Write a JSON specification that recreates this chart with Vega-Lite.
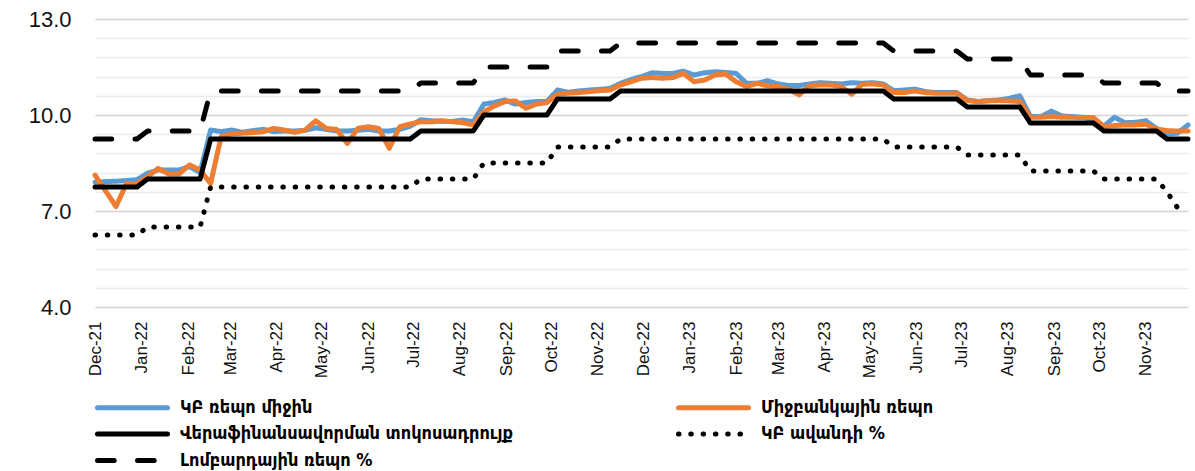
{
"$schema": "https://vega.github.io/schema/vega-lite/v6.json",
"width": 1093, "height": 288,
"autosize": {"type": "none"},
"padding": {"left": 95, "top": 19, "right": 7, "bottom": 164},
"background": "white",
"config": {"view": {"stroke": null}},
"data": {"values": [
{"t":"2021-12-03","a":7.9,"b":8.12,"c":7.75,"d":6.25,"e":9.25},
{"t":"2021-12-10","a":7.92,"b":7.63,"c":7.75,"d":6.25,"e":9.25},
{"t":"2021-12-17","a":7.93,"b":7.14,"c":7.75,"d":6.25,"e":9.25},
{"t":"2021-12-24","a":7.95,"b":7.86,"c":7.75,"d":6.25,"e":9.25},
{"t":"2021-12-31","a":7.98,"b":7.86,"c":7.75,"d":6.25,"e":9.25},
{"t":"2022-01-07","a":8.18,"b":8.07,"c":8,"d":6.5,"e":9.5},
{"t":"2022-01-14","a":8.28,"b":8.33,"c":8,"d":6.5,"e":9.5},
{"t":"2022-01-21","a":8.28,"b":8.16,"c":8,"d":6.5,"e":9.5},
{"t":"2022-01-28","a":8.28,"b":8.16,"c":8,"d":6.5,"e":9.5},
{"t":"2022-02-04","a":8.39,"b":8.44,"c":8,"d":6.5,"e":9.5},
{"t":"2022-02-11","a":8.2,"b":8.28,"c":8,"d":6.5,"e":9.5},
{"t":"2022-02-18","a":9.53,"b":7.86,"c":9.25,"d":7.75,"e":10.75},
{"t":"2022-02-25","a":9.48,"b":9.32,"c":9.25,"d":7.75,"e":10.75},
{"t":"2022-03-04","a":9.53,"b":9.41,"c":9.25,"d":7.75,"e":10.75},
{"t":"2022-03-11","a":9.46,"b":9.43,"c":9.25,"d":7.75,"e":10.75},
{"t":"2022-03-18","a":9.51,"b":9.45,"c":9.25,"d":7.75,"e":10.75},
{"t":"2022-03-25","a":9.55,"b":9.48,"c":9.25,"d":7.75,"e":10.75},
{"t":"2022-04-01","a":9.48,"b":9.58,"c":9.25,"d":7.75,"e":10.75},
{"t":"2022-04-08","a":9.5,"b":9.53,"c":9.25,"d":7.75,"e":10.75},
{"t":"2022-04-15","a":9.5,"b":9.46,"c":9.25,"d":7.75,"e":10.75},
{"t":"2022-04-22","a":9.52,"b":9.53,"c":9.25,"d":7.75,"e":10.75},
{"t":"2022-04-29","a":9.6,"b":9.82,"c":9.25,"d":7.75,"e":10.75},
{"t":"2022-05-06","a":9.55,"b":9.58,"c":9.25,"d":7.75,"e":10.75},
{"t":"2022-05-13","a":9.5,"b":9.55,"c":9.25,"d":7.75,"e":10.75},
{"t":"2022-05-20","a":9.5,"b":9.11,"c":9.25,"d":7.75,"e":10.75},
{"t":"2022-05-27","a":9.52,"b":9.58,"c":9.25,"d":7.75,"e":10.75},
{"t":"2022-06-03","a":9.55,"b":9.63,"c":9.25,"d":7.75,"e":10.75},
{"t":"2022-06-10","a":9.5,"b":9.58,"c":9.25,"d":7.75,"e":10.75},
{"t":"2022-06-17","a":9.5,"b":8.96,"c":9.25,"d":7.75,"e":10.75},
{"t":"2022-06-24","a":9.55,"b":9.63,"c":9.25,"d":7.75,"e":10.75},
{"t":"2022-07-01","a":9.65,"b":9.72,"c":9.25,"d":7.75,"e":10.75},
{"t":"2022-07-08","a":9.85,"b":9.79,"c":9.5,"d":8,"e":11},
{"t":"2022-07-15","a":9.82,"b":9.79,"c":9.5,"d":8,"e":11},
{"t":"2022-07-22","a":9.8,"b":9.82,"c":9.5,"d":8,"e":11},
{"t":"2022-07-29","a":9.8,"b":9.79,"c":9.5,"d":8,"e":11},
{"t":"2022-08-05","a":9.84,"b":9.76,"c":9.5,"d":8,"e":11},
{"t":"2022-08-12","a":9.79,"b":9.69,"c":9.5,"d":8,"e":11},
{"t":"2022-08-19","a":10.34,"b":10.1,"c":10,"d":8.5,"e":11.5},
{"t":"2022-08-26","a":10.39,"b":10.28,"c":10,"d":8.5,"e":11.5},
{"t":"2022-09-02","a":10.47,"b":10.42,"c":10,"d":8.5,"e":11.5},
{"t":"2022-09-09","a":10.34,"b":10.44,"c":10,"d":8.5,"e":11.5},
{"t":"2022-09-16","a":10.39,"b":10.21,"c":10,"d":8.5,"e":11.5},
{"t":"2022-09-23","a":10.42,"b":10.34,"c":10,"d":8.5,"e":11.5},
{"t":"2022-09-30","a":10.42,"b":10.39,"c":10,"d":8.5,"e":11.5},
{"t":"2022-10-07","a":10.78,"b":10.65,"c":10.5,"d":9,"e":12},
{"t":"2022-10-14","a":10.71,"b":10.68,"c":10.5,"d":9,"e":12},
{"t":"2022-10-21","a":10.75,"b":10.7,"c":10.5,"d":9,"e":12},
{"t":"2022-10-28","a":10.78,"b":10.73,"c":10.5,"d":9,"e":12},
{"t":"2022-11-04","a":10.8,"b":10.76,"c":10.5,"d":9,"e":12},
{"t":"2022-11-11","a":10.83,"b":10.78,"c":10.5,"d":9,"e":12},
{"t":"2022-11-18","a":10.99,"b":10.94,"c":10.75,"d":9.25,"e":12.25},
{"t":"2022-11-25","a":11.11,"b":11.04,"c":10.75,"d":9.25,"e":12.25},
{"t":"2022-12-02","a":11.2,"b":11.15,"c":10.75,"d":9.25,"e":12.25},
{"t":"2022-12-09","a":11.32,"b":11.17,"c":10.75,"d":9.25,"e":12.25},
{"t":"2022-12-16","a":11.3,"b":11.15,"c":10.75,"d":9.25,"e":12.25},
{"t":"2022-12-23","a":11.3,"b":11.17,"c":10.75,"d":9.25,"e":12.25},
{"t":"2022-12-30","a":11.37,"b":11.3,"c":10.75,"d":9.25,"e":12.25},
{"t":"2023-01-06","a":11.25,"b":11.04,"c":10.75,"d":9.25,"e":12.25},
{"t":"2023-01-13","a":11.32,"b":11.09,"c":10.75,"d":9.25,"e":12.25},
{"t":"2023-01-20","a":11.35,"b":11.25,"c":10.75,"d":9.25,"e":12.25},
{"t":"2023-01-27","a":11.33,"b":11.28,"c":10.75,"d":9.25,"e":12.25},
{"t":"2023-02-03","a":11.3,"b":11.04,"c":10.75,"d":9.25,"e":12.25},
{"t":"2023-02-10","a":10.99,"b":10.89,"c":10.75,"d":9.25,"e":12.25},
{"t":"2023-02-17","a":10.99,"b":10.99,"c":10.75,"d":9.25,"e":12.25},
{"t":"2023-02-24","a":11.07,"b":10.91,"c":10.75,"d":9.25,"e":12.25},
{"t":"2023-03-03","a":10.97,"b":10.89,"c":10.75,"d":9.25,"e":12.25},
{"t":"2023-03-10","a":10.92,"b":10.8,"c":10.75,"d":9.25,"e":12.25},
{"t":"2023-03-17","a":10.92,"b":10.63,"c":10.75,"d":9.25,"e":12.25},
{"t":"2023-03-24","a":10.97,"b":10.91,"c":10.75,"d":9.25,"e":12.25},
{"t":"2023-03-31","a":11.01,"b":10.94,"c":10.75,"d":9.25,"e":12.25},
{"t":"2023-04-07","a":10.99,"b":10.94,"c":10.75,"d":9.25,"e":12.25},
{"t":"2023-04-14","a":10.97,"b":10.89,"c":10.75,"d":9.25,"e":12.25},
{"t":"2023-04-21","a":11.01,"b":10.65,"c":10.75,"d":9.25,"e":12.25},
{"t":"2023-04-28","a":10.99,"b":10.96,"c":10.75,"d":9.25,"e":12.25},
{"t":"2023-05-05","a":11.01,"b":10.97,"c":10.75,"d":9.25,"e":12.25},
{"t":"2023-05-12","a":10.97,"b":10.94,"c":10.75,"d":9.25,"e":12.25},
{"t":"2023-05-19","a":10.76,"b":10.7,"c":10.5,"d":9,"e":12},
{"t":"2023-05-26","a":10.78,"b":10.7,"c":10.5,"d":9,"e":12},
{"t":"2023-06-02","a":10.81,"b":10.75,"c":10.5,"d":9,"e":12},
{"t":"2023-06-09","a":10.73,"b":10.7,"c":10.5,"d":9,"e":12},
{"t":"2023-06-16","a":10.7,"b":10.68,"c":10.5,"d":9,"e":12},
{"t":"2023-06-23","a":10.7,"b":10.68,"c":10.5,"d":9,"e":12},
{"t":"2023-06-30","a":10.7,"b":10.68,"c":10.5,"d":9,"e":12},
{"t":"2023-07-07","a":10.47,"b":10.45,"c":10.25,"d":8.75,"e":11.75},
{"t":"2023-07-14","a":10.42,"b":10.42,"c":10.25,"d":8.75,"e":11.75},
{"t":"2023-07-21","a":10.45,"b":10.44,"c":10.25,"d":8.75,"e":11.75},
{"t":"2023-07-28","a":10.47,"b":10.45,"c":10.25,"d":8.75,"e":11.75},
{"t":"2023-08-04","a":10.52,"b":10.44,"c":10.25,"d":8.75,"e":11.75},
{"t":"2023-08-11","a":10.6,"b":10.42,"c":10.25,"d":8.75,"e":11.75},
{"t":"2023-08-18","a":9.96,"b":9.93,"c":9.75,"d":8.25,"e":11.25},
{"t":"2023-08-25","a":9.95,"b":9.93,"c":9.75,"d":8.25,"e":11.25},
{"t":"2023-09-01","a":10.12,"b":9.95,"c":9.75,"d":8.25,"e":11.25},
{"t":"2023-09-08","a":9.97,"b":9.93,"c":9.75,"d":8.25,"e":11.25},
{"t":"2023-09-15","a":9.95,"b":9.93,"c":9.75,"d":8.25,"e":11.25},
{"t":"2023-09-22","a":9.93,"b":9.92,"c":9.75,"d":8.25,"e":11.25},
{"t":"2023-09-29","a":9.85,"b":9.92,"c":9.75,"d":8.25,"e":11.25},
{"t":"2023-10-06","a":9.65,"b":9.64,"c":9.5,"d":8,"e":11},
{"t":"2023-10-13","a":9.93,"b":9.67,"c":9.5,"d":8,"e":11},
{"t":"2023-10-20","a":9.76,"b":9.69,"c":9.5,"d":8,"e":11},
{"t":"2023-10-27","a":9.77,"b":9.69,"c":9.5,"d":8,"e":11},
{"t":"2023-11-03","a":9.82,"b":9.71,"c":9.5,"d":8,"e":11},
{"t":"2023-11-10","a":9.58,"b":9.56,"c":9.5,"d":8,"e":11},
{"t":"2023-11-17","a":9.41,"b":9.51,"c":9.25,"d":7.6,"e":10.75},
{"t":"2023-11-24","a":9.43,"b":9.5,"c":9.25,"d":7.1,"e":10.75},
{"t":"2023-12-01","a":9.69,"b":9.5,"c":9.25,"d":null,"e":10.75}
]},
"transform": [{"fold": ["a","b","c","d","e"], "as": ["k","v"]}],
"mark": {"type": "line", "strokeWidth": 5, "strokeCap": "round", "strokeJoin": "round"},
"encoding": {
  "x": {"field": "t", "type": "temporal",
    "scale": {"type": "utc", "domain": [{"year":2021,"month":12,"date":3,"utc":true},{"year":2023,"month":12,"date":1,"utc":true}]},
    "axis": {"title": null, "format": "%b-%y", "labelAngle": -90, "labelFontSize": 17, "labelFont": "Liberation Sans", "labelColor": "#111111",
      "domain": false, "ticks": false, "grid": false, "labelPadding": 14, "labelOverlap": false, "labelFlush": false, "labelBound": false,
      "values": [
        {"year":2021,"month":12,"date":3,"utc":true},
        {"year":2022,"month":1,"date":3,"utc":true},{"year":2022,"month":2,"date":3,"utc":true},{"year":2022,"month":3,"date":3,"utc":true},
        {"year":2022,"month":4,"date":3,"utc":true},{"year":2022,"month":5,"date":3,"utc":true},{"year":2022,"month":6,"date":3,"utc":true},
        {"year":2022,"month":7,"date":3,"utc":true},{"year":2022,"month":8,"date":3,"utc":true},{"year":2022,"month":9,"date":3,"utc":true},
        {"year":2022,"month":10,"date":3,"utc":true},{"year":2022,"month":11,"date":3,"utc":true},{"year":2022,"month":12,"date":3,"utc":true},
        {"year":2023,"month":1,"date":3,"utc":true},{"year":2023,"month":2,"date":3,"utc":true},{"year":2023,"month":3,"date":3,"utc":true},
        {"year":2023,"month":4,"date":3,"utc":true},{"year":2023,"month":5,"date":3,"utc":true},{"year":2023,"month":6,"date":3,"utc":true},
        {"year":2023,"month":7,"date":3,"utc":true},{"year":2023,"month":8,"date":3,"utc":true},{"year":2023,"month":9,"date":3,"utc":true},
        {"year":2023,"month":10,"date":3,"utc":true},{"year":2023,"month":11,"date":3,"utc":true}
      ]}},
  "y": {"field": "v", "type": "quantitative",
    "scale": {"domain": [4, 13], "nice": false, "zero": false},
    "axis": {"title": null, "values": [4,4.6,5.2,5.8,6.4,7,7.6,8.2,8.8,9.4,10,10.6,11.2,11.8,12.4,13],
      "labelExpr": "indexof([4,7,10,13], datum.value) >= 0 ? format(datum.value, '.1f') : ''",
      "gridColor": {"condition": {"test": "indexof([4,7,10,13], datum.value) >= 0", "value": "#D4D4D4"}, "value": "#EBEBEB"},
      "gridWidth": 1.5, "domain": false, "ticks": false, "labelFontSize": 22, "labelFont": "Liberation Sans", "labelColor": "#111111", "labelPadding": 24}},
  "color": {"field": "k", "type": "nominal",
    "scale": {"domain": ["a","b","c","d","e"], "range": ["#5B9BD5","#ED7D31","#000000","#000000","#000000"]},
    "legend": {"title": null, "orient": "none", "legendX": 0, "legendY": 379, "direction": "horizontal", "columns": 2, "columnPadding": 154, "rowPadding": 5.5,
      "symbolType": "M-1,0H9", "symbolSize": 196, "symbolStrokeWidth": 5, "labelFontSize": 18, "labelFontWeight": "bold", "labelFont": "DejaVu Sans Condensed, DejaVu Sans", "labelColor": "#000000", "labelLimit": 700, "labelOffset": 66,
      "labelExpr": "{'a':'ԿԲ ռեպո միջին','b':'Միջբանկային ռեպո','c':'Վերաֆինանսավորման տոկոսադրույք','d':'ԿԲ ավանդի %','e':'Լոմբարդային ռեպո %'}[datum.label]",
      "encode": {"symbols": {"update": {"strokeCap": {"value": "round"}, "fillOpacity": {"value": 0}}}}}},
  "strokeDash": {"field": "k", "type": "nominal",
    "scale": {"domain": ["a","b","c","d","e"], "range": [[1,0],[1,0],[1,0],[0.5,11.8],[16.7,23.3]]},
    "legend": {"title": null, "orient": "none", "legendX": 0, "legendY": 379, "direction": "horizontal", "columns": 2, "columnPadding": 154, "rowPadding": 5.5,
      "symbolType": "M-1,0H9", "symbolSize": 196, "symbolStrokeWidth": 5, "labelFontSize": 18, "labelFontWeight": "bold", "labelFont": "DejaVu Sans Condensed, DejaVu Sans", "labelColor": "#000000", "labelLimit": 700, "labelOffset": 66,
      "labelExpr": "{'a':'ԿԲ ռեպո միջին','b':'Միջբանկային ռեպո','c':'Վերաֆինանսավորման տոկոսադրույք','d':'ԿԲ ավանդի %','e':'Լոմբարդային ռեպո %'}[datum.label]",
      "encode": {"symbols": {"update": {"strokeCap": {"value": "round"}, "fillOpacity": {"value": 0}}}}}}
}
}
